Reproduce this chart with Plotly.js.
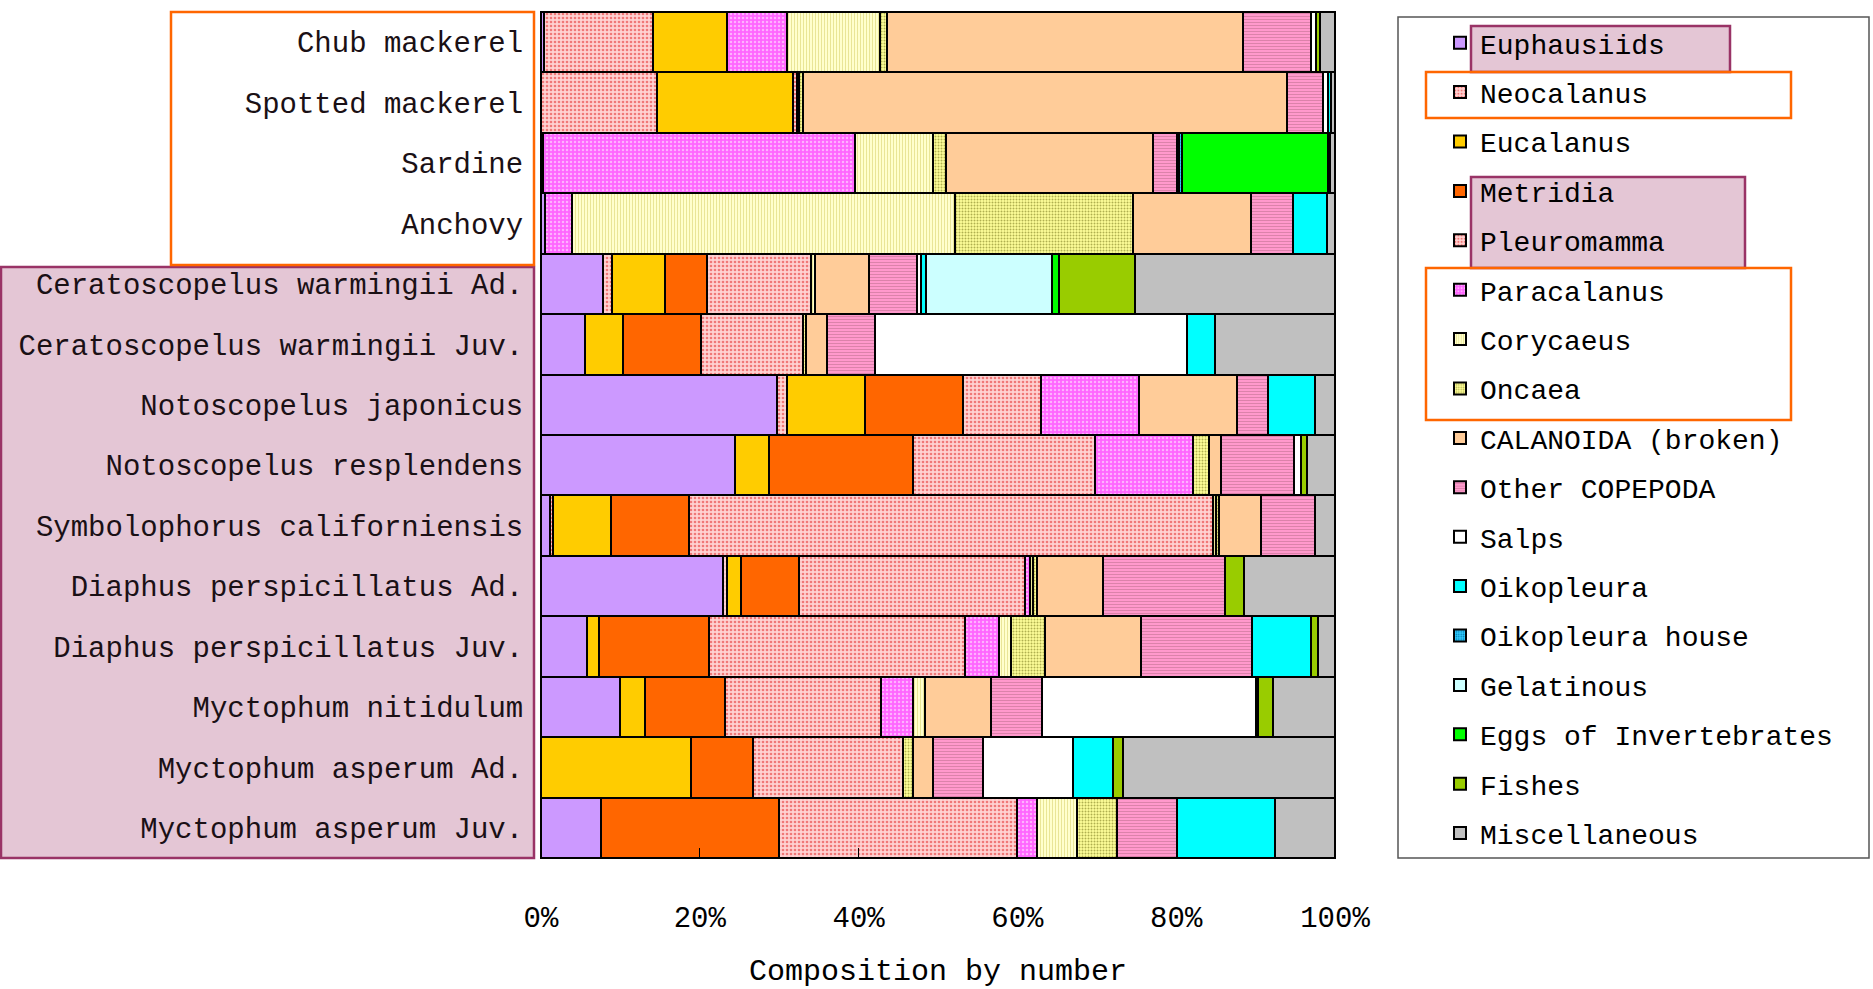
<!DOCTYPE html>
<html>
<head>
<meta charset="utf-8">
<script src="https://cdn.plot.ly/plotly-3.0.1.min.js"></script>
<style>html,body{margin:0;padding:0;background:#fff;}#chart{width:1873px;height:989px;}</style>
</head>
<body>
<div id="chart"></div>
<script>
// Categories (top to bottom)
const categories = [
  "Chub mackerel", "Spotted mackerel", "Sardine", "Anchovy",
  "Ceratoscopelus warmingii Ad.", "Ceratoscopelus warmingii Juv.",
  "Notoscopelus japonicus", "Notoscopelus resplendens",
  "Symbolophorus californiensis", "Diaphus perspicillatus Ad.",
  "Diaphus perspicillatus Juv.", "Myctophum nitidulum",
  "Myctophum asperum Ad.", "Myctophum asperum Juv."
];

// Composition by number (%) per prey group, in category order
const euphausiids   = [0.4, 0, 0.25, 0.5, 7.8, 5.5, 29.7, 24.4, 1.15, 22.9, 5.8, 10.0, 0, 7.55];
const neocalanus    = [13.65, 14.55, 0, 0, 1.2, 0, 1.25, 0, 0.4, 0.5, 0, 0, 0, 0];
const eucalanus     = [9.4, 17.2, 0, 0, 6.6, 4.8, 9.85, 4.3, 7.25, 1.8, 1.5, 3.1, 18.85, 0];
const metridia      = [0, 0, 0, 0, 5.3, 9.8, 12.4, 18.2, 9.8, 7.35, 13.9, 10.05, 7.9, 22.4];
const pleuromamma   = [0, 0.5, 0, 0, 13.1, 12.95, 9.8, 22.9, 66.0, 28.35, 32.2, 19.65, 18.8, 30.0];
const paracalanus   = [7.55, 0, 39.3, 3.45, 0, 0, 12.35, 12.35, 0, 0.65, 4.25, 4.1, 0, 2.5];
const corycaeus     = [11.65, 0.3, 9.85, 48.15, 0.5, 0, 0, 0, 0.4, 0.45, 1.55, 1.45, 0, 5.1];
const oncaea        = [0.95, 0.5, 1.65, 22.45, 0, 0.35, 0, 1.95, 0.45, 0.45, 4.25, 0, 1.35, 5.05];
const calanoida     = [44.75, 60.85, 26.0, 14.85, 6.75, 2.6, 12.35, 1.5, 5.2, 8.35, 12.1, 8.3, 2.5, 0];
const otherCopepoda = [8.65, 4.55, 3.05, 5.25, 6.1, 6.05, 3.8, 9.25, 6.8, 15.4, 14.0, 6.5, 6.25, 7.5];
const salps         = [0.65, 0.65, 0, 0, 0.5, 39.3, 0, 0.85, 0, 0, 0, 26.85, 11.35, 0];
const oikopleura    = [0, 0.4, 0.3, 4.3, 0.7, 3.5, 5.95, 0, 0, 0, 7.4, 0.3, 5.1, 12.35];
const oikHouse      = [0, 0, 0.3, 0, 0, 0, 0, 0, 0, 0, 0, 0, 0, 0];
const gelatinous    = [0, 0, 0, 0, 15.75, 0, 0, 0, 0, 0, 0, 0, 0, 0];
const eggs          = [0, 0, 18.4, 0, 0.9, 0, 0, 0, 0, 0, 0, 0, 0, 0];
const fishes        = [0.45, 0, 0.3, 0, 9.6, 0, 0, 0.8, 0, 2.3, 0.85, 1.95, 1.15, 0];
const misc          = [1.9, 0.5, 0.6, 1.05, 25.2, 15.15, 2.55, 3.5, 2.55, 11.5, 2.2, 7.75, 26.75, 7.55];

const tickVals = [0, 20, 40, 60, 80, 100];
const tickText = ["0%", "20%", "40%", "60%", "80%", "100%"];

const series = [
  {name: "Euphausiids", v: euphausiids, color: "#CC99FF"},
  {name: "Neocalanus", v: neocalanus, color: "#FFD2D2", pat: {shape: ".", fg: "#F07878", size: 4, sol: 0.35}},
  {name: "Eucalanus", v: eucalanus, color: "#FFCC00"},
  {name: "Metridia", v: metridia, color: "#FF6600"},
  {name: "Pleuromamma", v: pleuromamma, color: "#FFD2D2", pat: {shape: ".", fg: "#F07878", size: 4, sol: 0.35}},
  {name: "Paracalanus", v: paracalanus, color: "#FF66FF", pat: {shape: ".", fg: "#FFB0FF", size: 4, sol: 0.3}},
  {name: "Corycaeus", v: corycaeus, color: "#FFFFCC", pat: {shape: "|", fg: "#E6E290", size: 3, sol: 0.3}},
  {name: "Oncaea", v: oncaea, color: "#FFFF99", pat: {shape: ".", fg: "#B0B050", size: 3, sol: 0.35}},
  {name: "CALANOIDA (broken)", v: calanoida, color: "#FFCC99"},
  {name: "Other COPEPODA", v: otherCopepoda, color: "#FF99CC", pat: {shape: "-", fg: "#D77FA6", size: 3, sol: 0.3}},
  {name: "Salps", v: salps, color: "#FFFFFF"},
  {name: "Oikopleura", v: oikopleura, color: "#00FFFF"},
  {name: "Oikopleura house", v: oikHouse, color: "#33CCFF", pat: {shape: ".", fg: "#0077AA", size: 3, sol: 0.3}},
  {name: "Gelatinous", v: gelatinous, color: "#CCFFFF"},
  {name: "Eggs of Invertebrates", v: eggs, color: "#00FF00"},
  {name: "Fishes", v: fishes, color: "#99CC00"},
  {name: "Miscellaneous", v: misc, color: "#C0C0C0"}
];

const traces = series.map(s => {
  const marker = {color: s.color, line: {color: "#000000", width: 2}};
  if (s.pat) {
    marker.pattern = {shape: s.pat.shape, fgcolor: s.pat.fg, bgcolor: s.color,
                      size: s.pat.size, solidity: s.pat.sol, fillmode: "replace"};
  }
  return {type: "bar", orientation: "h", name: s.name, legendgroup: s.name,
          x: s.v, y: categories, marker: marker, hoverinfo: "skip"};
});

// pixel -> paper helpers (plot area 541..1335 x, 12..858 y)
const L = 541, R = 1335, T = 12, B = 858;
const px = v => (v - L) / (R - L);
const py = v => (B - v) / (B - T);

const shapes = [
  // left label boxes
  {type: "rect", xref: "paper", yref: "paper", layer: "below",
   x0: px(1), x1: px(534), y0: py(858), y1: py(267),
   fillcolor: "#E4C6D5", line: {color: "#993366", width: 2.5}},
  {type: "rect", xref: "paper", yref: "paper", layer: "below",
   x0: px(171), x1: px(534), y0: py(265), y1: py(12),
   fillcolor: "rgba(0,0,0,0)", line: {color: "#FF6600", width: 2.5}},
  // legend frame
  {type: "rect", xref: "paper", yref: "paper", layer: "below",
   x0: px(1398), x1: px(1869), y0: py(858), y1: py(17),
   fillcolor: "#FFFFFF", line: {color: "#555555", width: 1.5}},
  // legend highlight boxes
  {type: "rect", xref: "paper", yref: "paper", layer: "below",
   x0: px(1471), x1: px(1730), y0: py(72), y1: py(26),
   fillcolor: "#E4C6D5", line: {color: "#993366", width: 2.5}},
  {type: "rect", xref: "paper", yref: "paper", layer: "below",
   x0: px(1426), x1: px(1791), y0: py(118), y1: py(72),
   fillcolor: "rgba(0,0,0,0)", line: {color: "#FF6600", width: 2.5}},
  {type: "rect", xref: "paper", yref: "paper", layer: "below",
   x0: px(1471), x1: px(1745), y0: py(268), y1: py(177),
   fillcolor: "#E4C6D5", line: {color: "#993366", width: 2.5}},
  {type: "rect", xref: "paper", yref: "paper", layer: "below",
   x0: px(1426), x1: px(1791), y0: py(420), y1: py(268),
   fillcolor: "rgba(0,0,0,0)", line: {color: "#FF6600", width: 2.5}}
];

const FONT = "Liberation Mono, DejaVu Sans Mono, monospace";

const layout = {
  width: 1873, height: 989,
  margin: {l: L, r: 1873 - R, t: T, b: 989 - B, pad: 0},
  paper_bgcolor: "#FFFFFF", plot_bgcolor: "#FFFFFF",
  barmode: "stack", bargap: 0,
  font: {family: FONT, color: "#000000", size: 28},
  showlegend: true,
  legend: {
    x: px(1440), y: py(18), xanchor: "left", yanchor: "top",
    xref: "paper", yref: "paper",
    bgcolor: "rgba(0,0,0,0)", borderwidth: 0,
    traceorder: "grouped", tracegroupgap: 10,
    font: {family: FONT, size: 28, color: "#000000"}
  },
  xaxis: {
    range: [0, 100], tickvals: tickVals, ticktext: tickText,
    ticks: "inside", ticklen: 10, tickcolor: "#000000", tickwidth: 1,
    showgrid: false, zeroline: false, showline: true, linecolor: "#000000", linewidth: 1,
    mirror: true, ticklabelstandoff: 33,
    tickfont: {family: FONT, size: 29, color: "#000000"},
    title: {text: "Composition by number", font: {family: FONT, size: 30, color: "#000000"}, standoff: 30},
    automargin: false, fixedrange: true
  },
  yaxis: {
    type: "category", categoryorder: "array", categoryarray: categories,
    autorange: "reversed", ticks: "", showgrid: false, zeroline: false,
    showline: true, linecolor: "#000000", linewidth: 1, mirror: true,
    ticklabelstandoff: 11,
    tickfont: {family: FONT, size: 29, color: "#1a1015"},
    automargin: false, fixedrange: true
  },
  shapes: shapes
};

Plotly.newPlot("chart", traces, layout, {displayModeBar: false, staticPlot: true});
</script>
</body>
</html>
